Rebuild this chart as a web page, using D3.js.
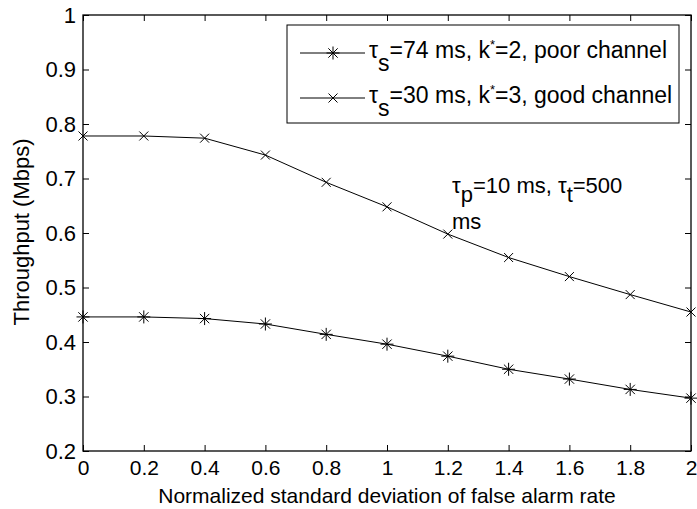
<!DOCTYPE html>
<html>
<head>
<meta charset="utf-8">
<script src="https://cdn.jsdelivr.net/npm/d3@7"></script>
<style>
  body { margin: 0; background: #fff; }
  svg text { font-family: "Liberation Sans", Arial, sans-serif; fill: #000; }
</style>
</head>
<body>
<svg id="chart"></svg>
<script>
var xValues = [0, 0.2, 0.4, 0.6, 0.8, 1.0, 1.2, 1.4, 1.6, 1.8, 2.0];
var poorChannel = [0.446, 0.446, 0.443, 0.433, 0.414, 0.396, 0.374, 0.350, 0.332, 0.313, 0.297];
var goodChannel = [0.778, 0.778, 0.774, 0.743, 0.693, 0.648, 0.598, 0.555, 0.520, 0.487, 0.455];
var xTicks = [0, 0.2, 0.4, 0.6, 0.8, 1, 1.2, 1.4, 1.6, 1.8, 2];
var yTicks = [0.2, 0.3, 0.4, 0.5, 0.6, 0.7, 0.8, 0.9, 1];

var width = 697, height = 509,
    margin = {top: 15, right: 6, bottom: 58, left: 83},
    w = width - margin.left - margin.right,
    h = height - margin.top - margin.bottom;

var svg = d3.select('#chart').attr('width', width).attr('height', height);
var g = svg.append('g').attr('transform', 'translate(' + margin.left + ',' + margin.top + ')');

var x = d3.scaleLinear().domain([0, 2]).range([0, w]);
var y = d3.scaleLinear().domain([0.2, 1]).range([h, 0]);

var fmt = function(d) { return String(d); };

// axes, ticks inward (matlab style)
var xAxisG = g.append('g').attr('transform', 'translate(0,' + h + ')')
  .call(d3.axisBottom(x).tickValues(xTicks).tickFormat(fmt).tickSizeInner(-6).tickSizeOuter(0).tickPadding(9));
var yAxisG = g.append('g')
  .call(d3.axisLeft(y).tickValues(yTicks).tickFormat(fmt).tickSizeInner(-6).tickSizeOuter(0).tickPadding(7));
g.append('g')
  .call(d3.axisTop(x).tickValues(xTicks).tickFormat('').tickSizeInner(-6).tickSizeOuter(0));
g.append('g').attr('transform', 'translate(' + w + ',0)')
  .call(d3.axisRight(y).tickValues(yTicks).tickFormat('').tickSizeInner(-6).tickSizeOuter(0));

g.selectAll('.domain').remove();
g.selectAll('.tick line').attr('stroke', '#000');
g.selectAll('.tick text').attr('font-family', '"Liberation Sans", Arial, sans-serif');
xAxisG.selectAll('.tick text').attr('font-size', 21);
yAxisG.selectAll('.tick text').attr('font-size', 22);

g.append('rect').attr('width', w).attr('height', h)
  .attr('fill', 'none').attr('stroke', '#000').attr('stroke-width', 1.3);

var line = d3.line()
  .x(function(d, i) { return x(xValues[i]); })
  .y(function(d) { return y(d); });

function starPath(s) {
  var r = s / 2, r2 = r * 0.72;
  return 'M' + (-r) + ',0L' + r + ',0M0,' + (-r) + 'L0,' + r +
    'M' + (-r2) + ',' + (-r2) + 'L' + r2 + ',' + r2 +
    'M' + (-r2) + ',' + r2 + 'L' + r2 + ',' + (-r2);
}
function crossPath(s) {
  var r = s / 2;
  return 'M' + (-r) + ',' + (-r) + 'L' + r + ',' + r + 'M' + (-r) + ',' + r + 'L' + r + ',' + (-r);
}

var series = [
  {values: poorChannel, marker: starPath(13)},
  {values: goodChannel, marker: crossPath(9)}
];

series.forEach(function(s) {
  g.append('path').datum(s.values).attr('d', line)
    .attr('fill', 'none').attr('stroke', '#000').attr('stroke-width', 1);
  g.selectAll(null).data(s.values).enter().append('path')
    .attr('d', s.marker)
    .attr('transform', function(d, i) { return 'translate(' + x(xValues[i]) + ',' + y(d) + ')'; })
    .attr('fill', 'none').attr('stroke', '#000').attr('stroke-width', 1);
});

// axis titles
svg.append('text').attr('x', margin.left + w / 2).attr('y', 503)
  .attr('text-anchor', 'middle').attr('font-size', 21)
  .text('Normalized standard deviation of false alarm rate');
svg.append('text')
  .attr('transform', 'translate(29,' + 232 + ') rotate(-90)')
  .attr('text-anchor', 'middle').attr('font-size', 22)
  .text('Throughput (Mbps)');

// legend
var legend = svg.append('g');
legend.append('rect').attr('x', 287).attr('y', 25).attr('width', 392).attr('height', 98)
  .attr('fill', '#fff').attr('stroke', '#000').attr('stroke-width', 1);

function addSub(t, parts, drop) {
  parts.forEach(function(p) {
    var ts = t.append('tspan').text(p[0]);
    if (p[1] === 'sub') ts.attr('baseline-shift', (-drop) + 'px');
    if (p[1] === 'sup') ts.attr('baseline-shift', '9px').attr('font-size', 13);
  });
}

var legendRows = [
  {y: 53, marker: series[0].marker, parts: [['τ'], ['s', 'sub'], ['=74 ms, k'], ['*', 'sup'], ['=2, poor channel']]},
  {y: 98, marker: series[1].marker, parts: [['τ'], ['s', 'sub'], ['=30 ms, k'], ['*', 'sup'], ['=3, good channel']]}
];
legendRows.forEach(function(r) {
  legend.append('line').attr('x1', 300).attr('x2', 365).attr('y1', r.y).attr('y2', r.y)
    .attr('stroke', '#000').attr('stroke-width', 1);
  legend.append('path').attr('d', r.marker).attr('transform', 'translate(333,' + r.y + ')')
    .attr('fill', 'none').attr('stroke', '#000');
  var t = legend.append('text').attr('x', 369).attr('y', r.y + 5).attr('font-size', 23);
  addSub(t, r.parts, 13);
});

// annotation
var ann = svg.append('text').attr('x', 452).attr('y', 193).attr('font-size', 22);
addSub(ann, [['τ'], ['p', 'sub'], ['=10 ms, τ'], ['t', 'sub'], ['=500']], 9);
svg.append('text').attr('x', 452).attr('y', 229).attr('font-size', 22).text('ms');
</script>
</body>
</html>
